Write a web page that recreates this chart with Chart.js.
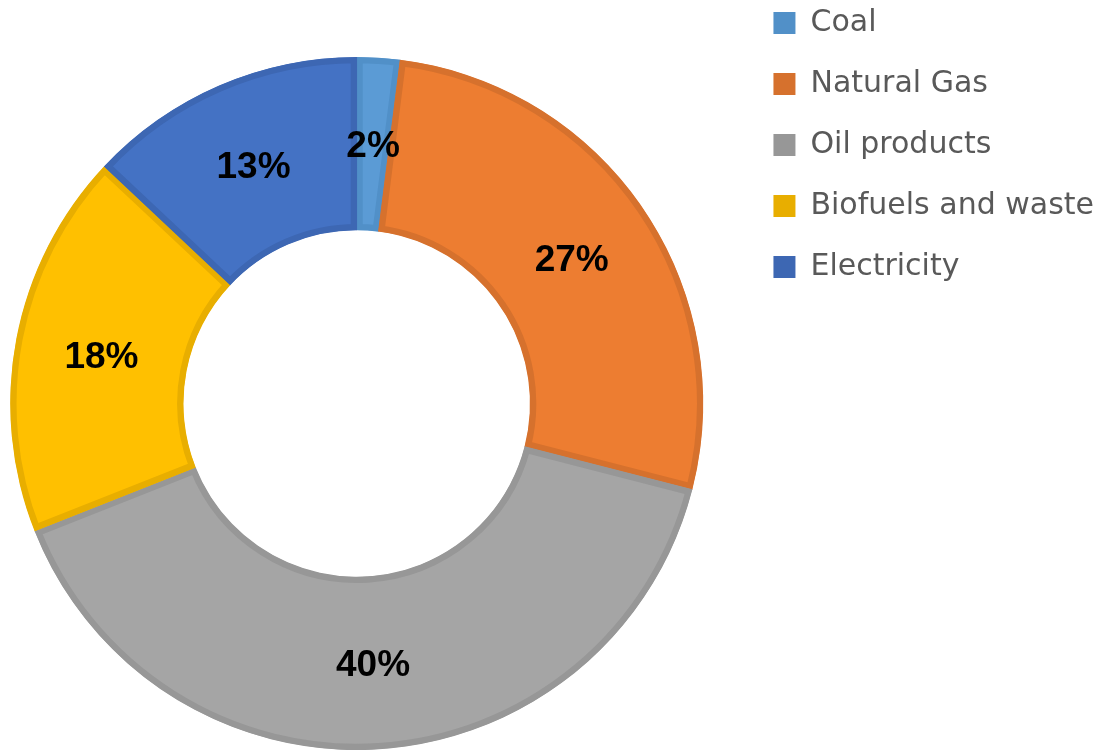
<!DOCTYPE html>
<html>
<head>
<meta charset="utf-8">
<title>Energy consumption by source</title>
<script src="https://cdn.jsdelivr.net/npm/chart.js@4.4.1/dist/chart.umd.min.js"></script>
<style>
  html, body { margin: 0; padding: 0; background: #ffffff; }
  #wrap { position: relative; width: 1115px; height: 750px; }
</style>
</head>
<body>
<div id="wrap"><canvas id="energyChart"></canvas></div>
<script>
// values (percent)
const sources = ["Coal", "Natural Gas", "Oil products", "Biofuels and waste", "Electricity"];
const shares = [2, 27, 40, 18, 13];

const fillColors = ["#5B9BD5", "#ED7D31", "#A5A5A5", "#FFC000", "#4472C4"];
const edgeColors = ["#5190C8", "#D6712D", "#979797", "#E8AE00", "#3D67B3"];

const LABEL_SIZE = 37;

// percent labels in the middle of each ring slice
const sliceLabels = {
  id: "sliceLabels",
  afterDatasetsDraw(chart) {
    const ctx = chart.ctx;
    const meta = chart.getDatasetMeta(0);
    ctx.save();
    ctx.font = `bold ${LABEL_SIZE}px 'Liberation Sans', Arial, sans-serif`;
    ctx.fillStyle = "#000000";
    ctx.textAlign = "center";
    ctx.textBaseline = "alphabetic";
    meta.data.forEach((arc, i) => {
      const pos = arc.getCenterPoint();
      // centre the digits (cap height) on the slice midpoint
      ctx.fillText(`${shares[i]}%`, pos.x, pos.y + LABEL_SIZE * 0.36);
    });
    ctx.restore();
  },
};

const ctx = document.getElementById("energyChart").getContext("2d");

new Chart(ctx, {
  type: "doughnut",
  data: {
    labels: sources,
    datasets: [
      {
        data: shares,
        backgroundColor: fillColors,
        borderColor: edgeColors,
        borderWidth: 6,
        borderAlign: "inner",
        borderJoinStyle: "miter",
        hoverOffset: 0,
      },
    ],
  },
  options: {
    responsive: true,
    maintainAspectRatio: false,
    animation: false,
    cutout: "50%",
    layout: {
      padding: { top: -23, right: 11, bottom: 0, left: 0 },
    },
    plugins: {
      // empty spacers: push the ring down and keep a gap before the legend
      title: {
        display: true,
        text: "",
        position: "top",
        fullSize: false,
        padding: 0,
        font: { size: 80, lineHeight: 1 },
      },
      subtitle: {
        display: true,
        text: "",
        position: "right",
        fullSize: false,
        weight: 500,
        padding: 0,
        font: { size: 29, lineHeight: 1 },
      },
      legend: {
        display: true,
        position: "right",
        align: "start",
        maxWidth: 420,
        labels: {
          font: {
            size: 30,
            family: "'DejaVu Sans', sans-serif",
          },
          color: "#595959",
          boxWidth: 22,
          boxHeight: 22,
          padding: 31,
          generateLabels(chart) {
            const items = Chart.overrides.doughnut.plugins.legend.labels.generateLabels(chart);
            return items.map((item) => ({
              ...item,
              fillStyle: edgeColors[item.index],
              strokeStyle: edgeColors[item.index],
              lineWidth: 0,
            }));
          },
        },
      },
      tooltip: { enabled: false },
    },
  },
  plugins: [sliceLabels],
});
</script>
</body>
</html>
